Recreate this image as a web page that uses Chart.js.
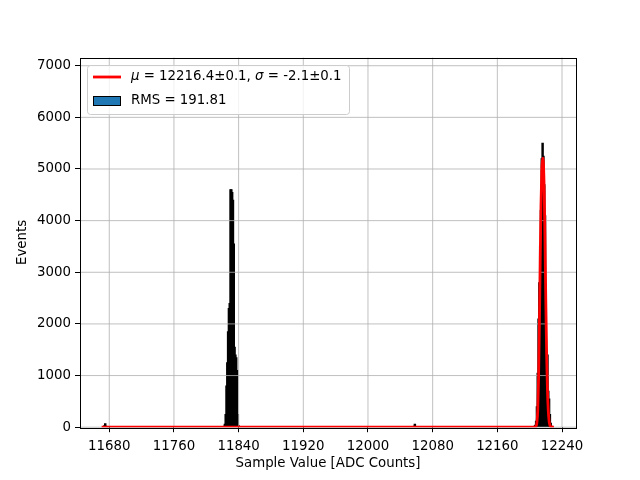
<!DOCTYPE html>
<html>
<head>
<meta charset="utf-8">
<script src="https://cdn.jsdelivr.net/npm/chart.js@4"></script>
<style>
  html, body { margin: 0; padding: 0; background: #fff; }
</style>
</head>
<body>
<canvas id="histChart" width="640" height="480"></canvas>
<script>
// histogram bins (ADC counts) and entries
const binCenters = [
    11674, 11675, 11676,
    11822, 11823, 11824, 11825, 11826, 11827, 11828, 11829, 11830, 11831,
    11832, 11833, 11834, 11835, 11836, 11837, 11838, 11839, 11840,
    12057, 12058, 12059,
    12205, 12206, 12207, 12208, 12209, 12210, 12211, 12212, 12213, 12214,
    12215, 12216, 12217, 12218, 12219, 12220, 12221, 12222, 12223, 12224,
    12225, 12226, 12227
];
const binCounts = [
    30, 70, 20,
    20, 60, 250, 800, 1250, 1850, 2300, 2400, 4600, 4600,
    4550, 4400, 3550, 1550, 1400, 1350, 1100, 250, 30,
    20, 60, 15,
    10, 20, 40, 120, 400, 1050, 2100, 2800, 3500, 4200,
    5200, 5500, 5250, 4700, 4100, 1700, 1450, 1400, 700, 550,
    250, 80, 20
];

// gaussian fit curve
const fitX = [11670.6, 12207, 12208, 12209, 12210, 12211, 12212, 12213, 12214, 12215,
    12216, 12216.4, 12217, 12218, 12219, 12220, 12221, 12222, 12223, 12224,
    12225, 12226, 12227, 12230];
const fitY = [0, 0, 20, 100, 330, 950, 1950, 3180, 4290, 4990,
    5180, 5210, 5120, 4550, 3540, 2390, 1400, 720, 320, 120,
    40, 10, 0, 0];

const xTicks = [11680, 11760, 11840, 11920, 12000, 12080, 12160, 12240];
const yTicks = [0, 1000, 2000, 3000, 4000, 5000, 6000, 7000];

const fitLabel = ['\u03bc', ' = 12216.4\u00b10.1, ', '\u03c3', ' = -2.1\u00b10.1'];
const histLabel = 'RMS = 191.81';

const FONT = 'DejaVu Sans';
const FS = 13.33;

// grid over the bars, under the fit line (matplotlib default)
const gridPlugin = {
    id: 'mplGrid',
    afterDatasetDraw(chart, args) {
        if (args.index !== 0) return;
        const {ctx, chartArea: a, scales: {x, y}} = chart;
        ctx.save();
        ctx.strokeStyle = '#b0b0b0';
        ctx.lineWidth = 0.8;
        xTicks.forEach(v => {
            const px = x.getPixelForValue(v);
            ctx.beginPath();
            ctx.moveTo(px, a.top);
            ctx.lineTo(px, a.bottom);
            ctx.stroke();
        });
        yTicks.forEach(v => {
            const py = y.getPixelForValue(v);
            ctx.beginPath();
            ctx.moveTo(a.left, py);
            ctx.lineTo(a.right, py);
            ctx.stroke();
        });
        ctx.restore();
    }
};

const framePlugin = {
    id: 'frameAndLegend',
    afterDraw(chart) {
        const {ctx, chartArea: a} = chart;
        ctx.save();
        ctx.strokeStyle = '#000';
        ctx.lineWidth = 1;
        ctx.strokeRect(Math.round(a.left) + 0.5, Math.round(a.top) + 0.5,
            Math.round(a.right - a.left), Math.round(a.bottom - a.top));

        // legend box
        const bx = 87.5, by = 65.5, bw = 262, bh = 49, r = 3;
        ctx.beginPath();
        ctx.moveTo(bx + r, by);
        ctx.arcTo(bx + bw, by, bx + bw, by + bh, r);
        ctx.arcTo(bx + bw, by + bh, bx, by + bh, r);
        ctx.arcTo(bx, by + bh, bx, by, r);
        ctx.arcTo(bx, by, bx + bw, by, r);
        ctx.closePath();
        ctx.fillStyle = 'rgba(255,255,255,0.8)';
        ctx.fill();
        ctx.strokeStyle = '#cccccc';
        ctx.stroke();

        // fit entry
        ctx.strokeStyle = 'red';
        ctx.lineWidth = 2.8;
        ctx.beginPath();
        ctx.moveTo(93, 77);
        ctx.lineTo(121, 77);
        ctx.stroke();

        ctx.fillStyle = '#000';
        ctx.textBaseline = 'middle';
        let tx = 131;
        fitLabel.forEach((part, i) => {
            ctx.font = (i % 2 === 0 ? 'italic ' : '') + FS + 'px "' + FONT + '"';
            ctx.fillText(part, tx, 77);
            tx += ctx.measureText(part).width;
        });

        // histogram entry
        ctx.fillStyle = '#1f77b4';
        ctx.fillRect(93.5, 96.5, 27, 9);
        ctx.strokeStyle = '#000';
        ctx.lineWidth = 1;
        ctx.strokeRect(93.5, 96.5, 27, 9);
        ctx.fillStyle = '#000';
        ctx.font = FS + 'px "' + FONT + '"';
        ctx.fillText(histLabel, 131, 101);
        ctx.restore();
    }
};

const ctx = document.getElementById('histChart').getContext('2d');
new Chart(ctx, {
    data: {
        datasets: [{
            type: 'bar',
            label: histLabel,
            data: binCenters.map((c, i) => ({x: c, y: binCounts[i]})),
            backgroundColor: '#000',
            borderWidth: 0,
            barThickness: 1.8,
            order: 1
        }, {
            type: 'line',
            label: 'fit',
            data: fitX.map((v, i) => ({x: v, y: fitY[i]})),
            borderColor: 'red',
            borderWidth: 2.8,
            pointRadius: 0,
            cubicInterpolationMode: 'monotone',
            order: 0
        }]
    },
    options: {
        responsive: false,
        animation: false,
        devicePixelRatio: 1,
        layout: {padding: {left: 0, right: 64, top: 57.6, bottom: 0}},
        plugins: {
            legend: {display: false},
            tooltip: {enabled: false}
        },
        scales: {
            x: {
                type: 'linear',
                offset: false,
                min: 11643.8,
                max: 12257.3,
                afterBuildTicks: s => { s.ticks = xTicks.map(v => ({value: v})); },
                afterFit: s => { s.height = 52.8; },
                border: {display: false},
                grid: {offset: false, drawOnChartArea: false, color: 'rgba(0,0,0,0)', tickColor: '#000', tickLength: 5},
                ticks: {
                    autoSkip: false, maxRotation: 0, color: '#000', padding: 6,
                    font: {family: FONT, size: FS},
                    callback: v => String(v)
                },
                title: {
                    display: true, text: 'Sample Value [ADC Counts]', color: '#000',
                    font: {family: FONT, size: FS}, padding: {top: 0, bottom: 8}
                }
            },
            y: {
                type: 'linear',
                min: 0,
                max: 7157,
                afterBuildTicks: s => { s.ticks = yTicks.map(v => ({value: v})); },
                afterFit: s => { s.width = 80; },
                border: {display: false},
                grid: {drawOnChartArea: false, color: 'rgba(0,0,0,0)', tickColor: '#000', tickLength: 5},
                ticks: {
                    color: '#000', padding: 4,
                    font: {family: FONT, size: FS},
                    callback: v => String(v)
                },
                title: {
                    display: true, text: 'Events', color: '#000',
                    font: {family: FONT, size: FS}, padding: {top: 15, bottom: 0}
                }
            }
        }
    },
    plugins: [gridPlugin, framePlugin]
});
</script>
</body>
</html>
